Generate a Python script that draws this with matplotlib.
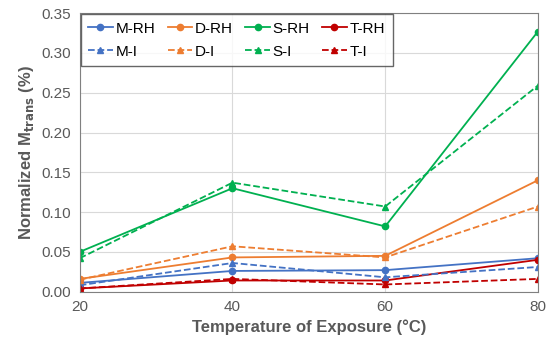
import matplotlib.pyplot as plt

plt.rcParams['font.family'] = ['Liberation Sans', 'DejaVu Sans']

temps = [20, 40, 60, 80]

m_rh = [0.011, 0.026, 0.027, 0.042]
d_rh = [0.016, 0.043, 0.045, 0.140]
s_rh = [0.050, 0.130, 0.082, 0.327]
t_rh = [0.004, 0.014, 0.014, 0.040]

m_i = [0.008, 0.036, 0.018, 0.031]
d_i = [0.015, 0.057, 0.043, 0.107]
s_i = [0.042, 0.137, 0.107, 0.259]
t_i = [0.004, 0.016, 0.009, 0.016]

labels_rh = ['M-RH', 'D-RH', 'S-RH', 'T-RH']
labels_i = ['M-I', 'D-I', 'S-I', 'T-I']
colors = ['#4472C4', '#ED7D31', '#00B050', '#C00000']

fig = plt.figure(figsize=(5.5, 3.48), dpi=100)
ax = fig.add_axes([0.145, 0.162, 0.833, 0.8])

rh_series = [m_rh, d_rh, s_rh, t_rh]
i_series = [m_i, d_i, s_i, t_i]

handles = []
for vals, lab, c in zip(rh_series, labels_rh, colors):
    h, = ax.plot(temps, vals, '-', marker='o', color=c, lw=1.3, ms=4.5, label=lab)
    handles.append(h)
for vals, lab, c in zip(i_series, labels_i, colors):
    h, = ax.plot(temps, vals, '--', marker='^', color=c, lw=1.3, ms=4.5, label=lab)
    handles.append(h)

# legend fills column-wise, so interleave RH / I
order = []
for k in range(4):
    order += [handles[k], handles[k + 4]]
leg = ax.legend(order, [h.get_label() for h in order], ncol=4, loc='upper left',
                bbox_to_anchor=(0.0, 1.0), fontsize=11, frameon=True, fancybox=False,
                handlelength=1.6, handletextpad=0.2, columnspacing=0.8,
                borderpad=0.5, labelspacing=0.6, borderaxespad=0.05)
leg.get_frame().set_edgecolor('#404040')
leg.get_frame().set_linewidth(1.0)

ax.set_xlim(20, 80)
ax.set_ylim(0, 0.35)
ax.set_xticks([20, 40, 60, 80])
ax.set_yticks([0, 0.05, 0.10, 0.15, 0.20, 0.25, 0.30, 0.35])
ax.set_yticklabels([f'{v:.2f}' for v in ax.get_yticks()])
ax.tick_params(labelsize=11, colors='#595959', length=0, pad=6)
ax.grid(True, color='#D9D9D9', lw=0.8)
ax.set_axisbelow(True)
for sp in ax.spines.values():
    sp.set_color('#808080')

ax.set_xlabel('Temperature of Exposure (°C)', fontsize=12, fontweight='bold', color='#595959')
ax.set_ylabel(r'Normalized M$_{\mathbf{trans}}$ (%)', fontsize=12, fontweight='bold', color='#595959')

fig.savefig('out.png', dpi=100)
